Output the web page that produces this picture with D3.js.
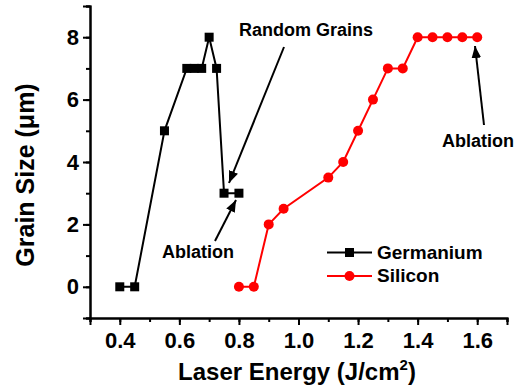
<!DOCTYPE html>
<html>
<head>
<meta charset="utf-8">
<script src="https://cdn.jsdelivr.net/npm/d3@7"></script>
<style>
  body { margin: 0; background: #fff; }
  svg { display: block; font-family: "Liberation Sans", Arial, sans-serif; font-weight: bold; }
</style>
</head>
<body>
<svg id="chart" width="527" height="392"></svg>
<script>
// data
const geEnergy = [0.4, 0.45, 0.55, 0.625, 0.65, 0.675, 0.7, 0.725, 0.75, 0.8];
const geSize   = [0, 0, 5, 7, 7, 7, 8, 7, 3, 3];
const siEnergy = [0.8, 0.85, 0.9, 0.95, 1.1, 1.15, 1.2, 1.25, 1.3, 1.35, 1.4, 1.45, 1.5, 1.55, 1.6];
const siSize   = [0, 0, 2, 2.5, 3.5, 4, 5, 6, 7, 7, 8, 8, 8, 8, 8];
const xTicks = [0.4, 0.6, 0.8, 1.0, 1.2, 1.4, 1.6];
const yTicks = [0, 2, 4, 6, 8];

let svg = d3.select("#chart");
let margin = { top: 6, bottom: 74, left: 90, right: 20 };
let innerW = 527 - margin.left - margin.right;
let innerH = 392 - margin.top - margin.bottom;

let x = d3.scaleLinear().domain([0.3, 1.7]).range([0, innerW]);
let y = d3.scaleLinear().domain([-1, 9]).range([innerH, 0]);

let g = svg.append("g").attr("transform", `translate(${margin.left},${margin.top})`);

// arrowhead
svg.append("defs").append("marker")
  .attr("id", "arrow")
  .attr("viewBox", "0 0 10 10")
  .attr("refX", 10).attr("refY", 5)
  .attr("markerWidth", 6).attr("markerHeight", 6)
  .attr("markerUnits", "strokeWidth")
  .attr("orient", "auto")
  .append("path").attr("d", "M0,1 L10,5 L0,9 Z").attr("fill", "#000");

// minor ticks, then major ones with labels
let xAxisG = g.append("g").attr("transform", `translate(0,${innerH})`);
xAxisG.call(d3.axisBottom(x).tickValues(d3.range(3, 18).map(d => d / 10)).tickSize(4).tickFormat(""));
xAxisG.append("g").call(d3.axisBottom(x).tickValues(xTicks).tickSize(7).tickPadding(7).tickFormat(d3.format(".1f")));

let yAxisG = g.append("g");
yAxisG.call(d3.axisLeft(y).tickValues(d3.range(-1, 10)).tickSize(4).tickFormat(""));
yAxisG.append("g").call(d3.axisLeft(y).tickValues(yTicks).tickSize(7).tickPadding(4));

g.selectAll(".domain").attr("stroke-width", 2);
g.selectAll(".tick line").attr("stroke-width", 2);
g.selectAll(".tick text").attr("font-size", 22).attr("font-weight", "bold").attr("font-family", "Liberation Sans, Arial, sans-serif").attr("fill", "#000");

// axis titles
let xTitle = svg.append("text")
  .attr("x", 297).attr("y", 380)
  .attr("text-anchor", "middle").attr("font-size", 24)
  .text("Laser Energy (J/cm");
xTitle.append("tspan").attr("dy", -10).attr("font-size", 15).text("2");
xTitle.append("tspan").attr("dy", 10).text(")");

svg.append("text")
  .attr("transform", "translate(34,175) rotate(-90)")
  .attr("text-anchor", "middle").attr("font-size", 25)
  .text("Grain Size (\u03bcm)");

// series
let ge = geEnergy.map((e, i) => [e, geSize[i]]);
let si = siEnergy.map((e, i) => [e, siSize[i]]);
let line = d3.line().x(d => x(d[0])).y(d => y(d[1]));

g.append("path").datum(ge).attr("d", line)
  .attr("fill", "none").attr("stroke", "#000").attr("stroke-width", 2);
g.selectAll(".ge").data(ge).enter().append("rect")
  .attr("x", d => x(d[0]) - 4.5).attr("y", d => y(d[1]) - 4.5)
  .attr("width", 9).attr("height", 9).attr("fill", "#000");

g.append("path").datum(si).attr("d", line)
  .attr("fill", "none").attr("stroke", "#ff0000").attr("stroke-width", 2);
g.selectAll(".si").data(si).enter().append("circle")
  .attr("cx", d => x(d[0])).attr("cy", d => y(d[1])).attr("r", 5)
  .attr("fill", "#ff0000");

// annotations
function arrow(x1, y1, x2, y2) {
  svg.append("line")
    .attr("x1", x1).attr("y1", y1).attr("x2", x2).attr("y2", y2)
    .attr("stroke", "#000").attr("stroke-width", 2)
    .attr("marker-end", "url(#arrow)");
}
svg.append("text").attr("x", 239).attr("y", 36).attr("font-size", 18).text("Random Grains");
arrow(284, 47, 229, 183);
svg.append("text").attr("x", 162).attr("y", 258).attr("font-size", 18).text("Ablation");
arrow(215, 241, 236, 200);
svg.append("text").attr("x", 442).attr("y", 147).attr("font-size", 18).text("Ablation");
arrow(484, 125, 475, 46);

// legend
let legend = svg.append("g");
let items = [
  { name: "Germanium", color: "#000", shape: "square", yy: 252.5 },
  { name: "Silicon", color: "#ff0000", shape: "circle", yy: 276 }
];
items.forEach(it => {
  legend.append("line").attr("x1", 327).attr("x2", 372).attr("y1", it.yy).attr("y2", it.yy)
    .attr("stroke", it.color).attr("stroke-width", 2);
  if (it.shape === "square") {
    legend.append("rect").attr("x", 345).attr("y", it.yy - 4.5).attr("width", 9).attr("height", 9).attr("fill", it.color);
  } else {
    legend.append("circle").attr("cx", 349.5).attr("cy", it.yy).attr("r", 5).attr("fill", it.color);
  }
  legend.append("text").attr("x", 377).attr("y", it.yy + 6).attr("font-size", 19).text(it.name);
});
</script>
</body>
</html>
